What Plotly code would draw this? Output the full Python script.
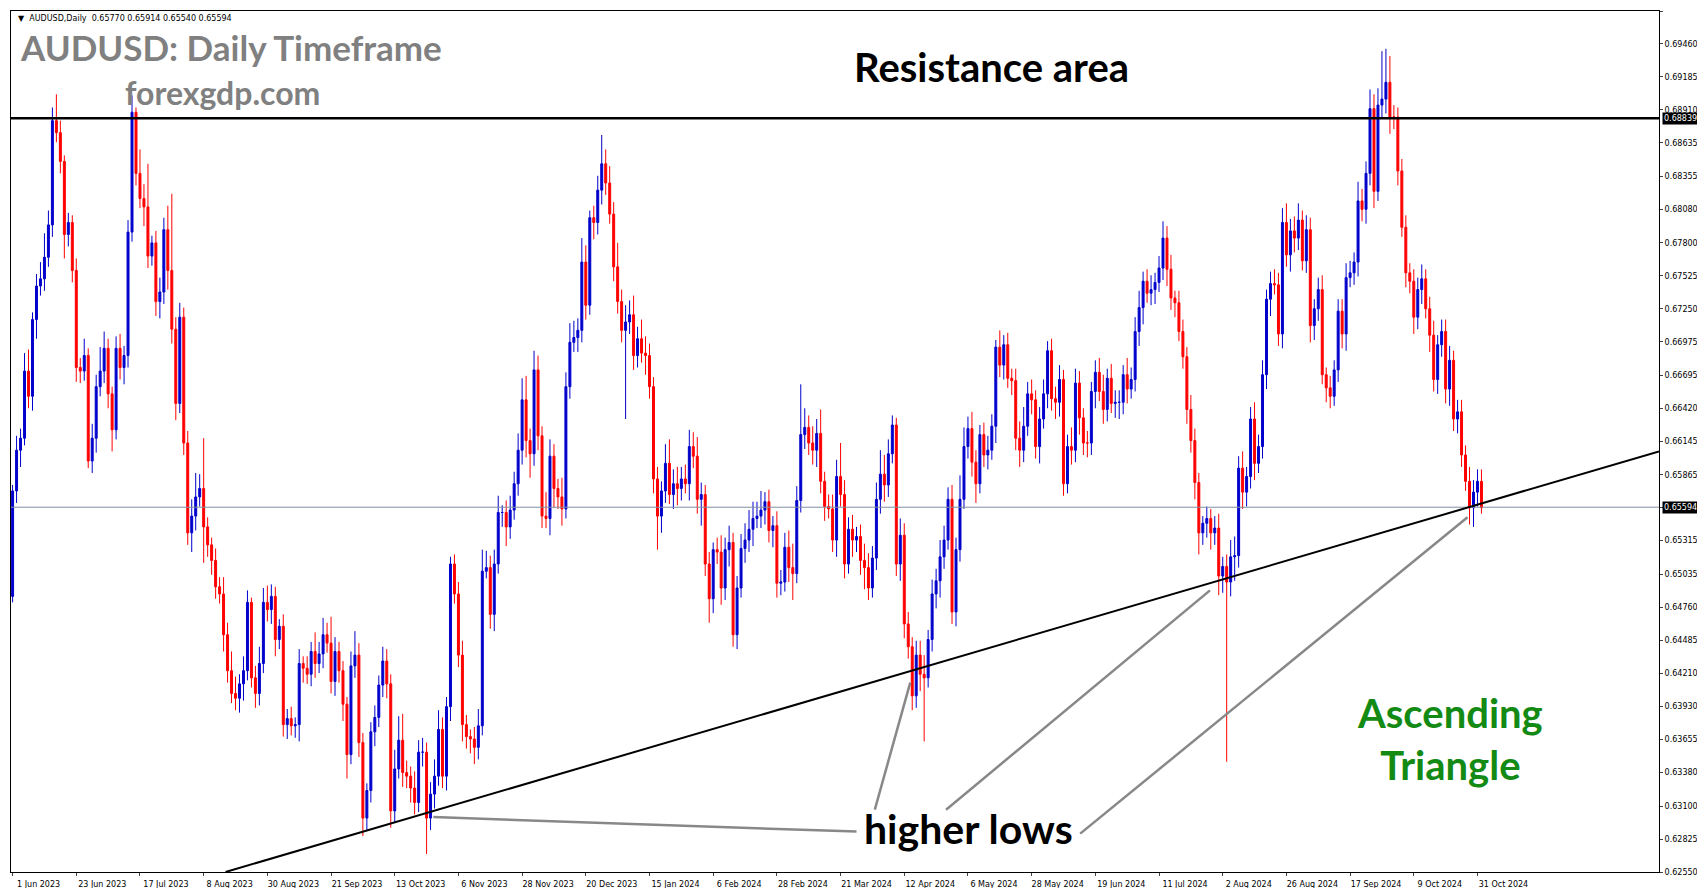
import plotly.graph_objects as go

# daily closes, in pips (0.0001)
first_open = 6485
closes = [
    6573, 6607, 6617, 6673, 6652, 6716, 6744, 6750, 6768, 6795,
    6882, 6872, 6848, 6787, 6797, 6757, 6676, 6673, 6686, 6598,
    6617, 6660, 6673, 6692, 6654, 6624, 6692, 6676, 6686, 6789,
    6889, 6838, 6817, 6810, 6769, 6780, 6731, 6739, 6791, 6757,
    6708, 6646, 6718, 6613, 6538, 6552, 6568, 6575, 6543, 6528,
    6515, 6493, 6487, 6453, 6423, 6404, 6400, 6412, 6423, 6480,
    6417, 6404, 6429, 6480, 6474, 6485, 6449, 6460, 6378, 6383,
    6377, 6378, 6429, 6425, 6420, 6439, 6429, 6437, 6453, 6446,
    6414, 6439, 6423, 6395, 6353, 6427, 6436, 6363, 6300, 6323,
    6372, 6384, 6411, 6431, 6412, 6306, 6341, 6365, 6338, 6335,
    6325, 6313, 6355, 6355, 6300, 6320, 6335, 6374, 6335, 6393,
    6512, 6487, 6436, 6378, 6368, 6366, 6359, 6377, 6506, 6509,
    6470, 6512, 6555, 6555, 6543, 6557, 6579, 6607, 6649, 6615,
    6604, 6674, 6619, 6552, 6550, 6602, 6575, 6568, 6558, 6660,
    6697, 6701, 6707, 6764, 6728, 6801, 6797, 6824, 6846, 6830,
    6804, 6760, 6731, 6707, 6714, 6720, 6686, 6700, 6688, 6686,
    6660, 6583, 6552, 6573, 6596, 6570, 6579, 6575, 6583, 6579,
    6610, 6602, 6566, 6570, 6512, 6483, 6524, 6522, 6492, 6524,
    6530, 6453, 6492, 6525, 6532, 6541, 6550, 6552, 6557, 6564,
    6540, 6544, 6496, 6497, 6526, 6509, 6504, 6565, 6620, 6626,
    6613, 6607, 6621, 6581, 6560, 6558, 6532, 6585, 6570, 6512,
    6541, 6532, 6535, 6515, 6509, 6492, 6517, 6566, 6587, 6578,
    6604, 6628, 6512, 6536, 6462, 6443, 6402, 6436, 6420, 6417,
    6449, 6487, 6498, 6518, 6532, 6566, 6472, 6524, 6566, 6610,
    6625, 6597, 6579, 6620, 6603, 6607, 6627, 6693, 6678, 6695,
    6667, 6665, 6617, 6607, 6627, 6654, 6649, 6610, 6633, 6654,
    6690, 6650, 6647, 6666, 6579, 6610, 6607, 6663, 6634, 6613,
    6613, 6656, 6672, 6656, 6641, 6667, 6646, 6647, 6647, 6670,
    6658, 6666, 6706, 6726, 6748, 6738, 6741, 6747, 6759, 6784,
    6758, 6734, 6730, 6706, 6685, 6641, 6615, 6580, 6538, 6546,
    6550, 6538, 6542, 6502, 6510, 6497, 6518, 6519, 6592, 6572,
    6585, 6633, 6596, 6610, 6670, 6733, 6746, 6745, 6704, 6797,
    6770, 6790, 6784, 6799, 6765, 6791, 6711, 6725, 6741, 6670,
    6659, 6652, 6674, 6723, 6704, 6751, 6755, 6764, 6815, 6808,
    6838, 6892, 6823, 6895, 6900, 6914, 6885, 6885, 6840, 6793,
    6755, 6748, 6718, 6741, 6750, 6725, 6703, 6666, 6695, 6706,
    6658, 6682, 6633, 6639, 6603, 6581, 6559, 6572, 6581, 6559,
]
# wick lengths above / below the body, in pips
upper_wick = [
    5, 12, 8, 15, 18, 6, 10, 14, 20, 12, 11, 22, 10, 5, 8, 6, 10, 8, 14, 6,
    12, 10, 20, 14, 8, 6, 10, 12, 8, 10, 14, 4, 20, 12, 36, 6, 10, 12, 10, 20,
    64, 10, 12, 8, 10, 14, 20, 12, 42, 8, 6, 10, 8, 14, 10, 16, 14, 8, 12, 10,
    4, 10, 14, 12, 14, 10, 8, 6, 10, 8, 10, 6, 12, 6, 10, 8, 16, 10, 14, 10,
    22, 12, 8, 8, 6, 12, 20, 10, 8, 6, 8, 10, 8, 12, 10, 8, 16, 20, 22, 10,
    8, 14, 10, 12, 8, 10, 14, 16, 10, 8, 6, 8, 10, 12, 8, 6, 10, 14, 18, 14,
    10, 12, 14, 6, 10, 12, 10, 14, 18, 20, 10, 16, 12, 8, 20, 14, 10, 8, 16, 12,
    16, 14, 10, 20, 14, 6, 10, 12, 24, 12, 14, 10, 20, 10, 14, 12, 16, 10, 16, 14,
    10, 8, 10, 8, 16, 20, 12, 14, 10, 12, 14, 12, 16, 10, 8, 10, 6, 10, 14, 10,
    14, 8, 10, 12, 14, 16, 14, 12, 16, 8, 10, 8, 12, 10, 12, 14, 20, 12, 42, 16,
    10, 14, 12, 20, 8, 10, 12, 14, 28, 12, 10, 12, 8, 10, 14, 12, 10, 14, 20, 16,
    12, 8, 6, 14, 10, 10, 8, 12, 12, 16, 8, 12, 10, 14, 12, 10, 12, 10, 20, 16,
    10, 14, 10, 8, 10, 12, 10, 6, 14, 8, 10, 8, 10, 14, 16, 10, 12, 8, 10, 12,
    8, 10, 10, 12, 8, 10, 16, 12, 10, 8, 10, 8, 10, 12, 14, 8, 12, 10, 10, 8,
    14, 10, 12, 14, 8, 10, 12, 8, 10, 14, 10, 12, 6, 10, 10, 8, 12, 10, 8, 6,
    10, 8, 10, 12, 8, 10, 14, 16, 10, 14, 8, 10, 14, 10, 12, 8, 10, 12, 10, 12,
    16, 10, 12, 14, 8, 12, 10, 8, 10, 12, 6, 10, 8, 10, 10, 12, 10, 8, 16, 10,
    10, 16, 12, 14, 40, 28, 22, 10, 8, 10, 10, 8, 10, 10, 12, 8, 10, 12, 8, 10,
    10, 12, 8, 10, 10, 8, 12, 10, 10, 10,
]
lower_wick = [
    5, 10, 14, 6, 10, 12, 16, 8, 10, 8, 10, 8, 10, 20, 10, 10, 12, 10, 8, 6,
    10, 12, 8, 10, 12, 18, 8, 10, 14, 10, 8, 10, 8, 16, 10, 8, 12, 14, 10, 16,
    12, 14, 8, 10, 10, 16, 12, 8, 30, 10, 12, 10, 8, 14, 10, 8, 10, 12, 14, 8,
    8, 12, 10, 8, 10, 12, 14, 8, 10, 12, 8, 10, 14, 12, 8, 10, 12, 8, 12, 8,
    10, 12, 10, 14, 20, 8, 10, 12, 15, 10, 10, 12, 8, 10, 12, 14, 10, 8, 12, 10,
    12, 10, 8, 12, 30, 10, 12, 8, 10, 12, 12, 8, 10, 14, 10, 12, 14, 10, 8, 6,
    12, 14, 8, 12, 16, 10, 8, 10, 12, 14, 20, 10, 12, 10, 8, 14, 16, 10, 14, 8,
    10, 8, 12, 10, 12, 8, 14, 10, 12, 10, 8, 12, 10, 10, 74, 10, 12, 10, 8, 16,
    10, 12, 28, 14, 10, 8, 12, 14, 10, 8, 14, 10, 12, 22, 10, 20, 12, 10, 14, 10,
    14, 10, 12, 8, 12, 10, 14, 8, 10, 12, 10, 14, 12, 10, 8, 12, 22, 8, 10, 12,
    10, 12, 14, 10, 12, 8, 10, 14, 10, 12, 8, 14, 10, 12, 18, 10, 8, 10, 12, 14,
    10, 8, 10, 14, 12, 10, 12, 10, 14, 53, 8, 10, 12, 14, 10, 8, 10, 12, 10, 8,
    10, 12, 16, 8, 10, 12, 8, 14, 10, 12, 8, 12, 10, 14, 10, 8, 12, 10, 14, 8,
    12, 10, 14, 12, 10, 8, 12, 10, 14, 10, 12, 10, 14, 8, 12, 10, 8, 12, 14, 10,
    12, 8, 10, 12, 14, 8, 10, 12, 8, 10, 14, 10, 12, 8, 10, 12, 10, 14, 18, 10,
    12, 14, 10, 16, 14, 150, 12, 20, 10, 14, 12, 10, 14, 8, 10, 12, 14, 8, 10, 12,
    10, 14, 12, 10, 8, 10, 14, 12, 10, 8, 12, 10, 8, 10, 12, 14, 8, 10, 12, 10,
    12, 10, 14, 8, 10, 12, 14, 10, 12, 8, 12, 10, 14, 10, 12, 8, 14, 10, 12, 10,
    12, 14, 10, 12, 10, 8, 14, 16, 12, 5,
]

date_labels = ["1 Jun 2023", "23 Jun 2023", "17 Jul 2023", "8 Aug 2023", "30 Aug 2023",
               "21 Sep 2023", "13 Oct 2023", "6 Nov 2023", "28 Nov 2023", "20 Dec 2023",
               "15 Jan 2024", "6 Feb 2024", "28 Feb 2024", "21 Mar 2024", "12 Apr 2024",
               "6 May 2024", "28 May 2024", "19 Jun 2024", "11 Jul 2024", "2 Aug 2024",
               "26 Aug 2024", "17 Sep 2024", "9 Oct 2024", "31 Oct 2024"]
price_ticks = [0.69735, 0.69460, 0.69185, 0.68910, 0.68635, 0.68355, 0.68080, 0.67800,
               0.67525, 0.67250, 0.66975, 0.66695, 0.66420, 0.66145, 0.65865, 0.65590,
               0.65315, 0.65035, 0.64760, 0.64485, 0.64210, 0.63930, 0.63655, 0.63380,
               0.63100, 0.62825, 0.62550]
resistance = 0.68839
last_price = 0.65594

# trend line + "higher lows" pointers (bar index, price)
trend_line = [(53.5, 0.62550), (413.6, 0.66060)]
pointers = [
    [(105.7, 0.63008), (212.0, 0.62887)],
    [(216.6, 0.63070), (225.5, 0.64130)],
    [(234.5, 0.63070), (300.8, 0.64900)],
    [(268.2, 0.62870), (365.5, 0.65510)],
]

opens = [first_open] + closes[:-1]
o = [v / 10000 for v in opens]
c = [v / 10000 for v in closes]
h = [(max(a, b) + u) / 10000 for a, b, u in zip(opens, closes, upper_wick)]
l = [(min(a, b) - d) / 10000 for a, b, d in zip(opens, closes, lower_wick)]
x = list(range(len(closes)))

fig = go.Figure()
fig.add_trace(go.Candlestick(
    x=x, open=o, high=h, low=l, close=c, whiskerwidth=0,
    increasing=dict(line=dict(color="#0000cc", width=1), fillcolor="#0000cc"),
    decreasing=dict(line=dict(color="#ff0000", width=1), fillcolor="#ff0000"),
    showlegend=False, hoverinfo="skip"))

fig.add_hline(y=resistance, line=dict(color="black", width=2.5))
fig.add_hline(y=last_price, line=dict(color="#8090a0", width=1))
(x0, y0), (x1, y1) = trend_line
fig.add_shape(type="line", x0=x0, y0=y0, x1=x1, y1=y1, line=dict(color="black", width=2))
for (px0, py0), (px1, py1) in pointers:
    fig.add_shape(type="line", x0=px0, y0=py0, x1=px1, y1=py1,
                  line=dict(color="#888888", width=2.5))

font = "Lato"
texts = [
    ("AUDUSD: Daily Timeframe", 0.004, 0.958, 35, "#808080", "left"),
    ("forexgdp.com", 0.068, 0.905, 32, "#808080", "left"),
    ("Resistance area", 0.595, 0.935, 40, "black", "center"),
    ("higher lows", 0.581, 0.05, 41, "black", "center"),
    ("Ascending<br>Triangle", 0.873, 0.155, 40, "#138a13", "center"),
]
for t, tx, ty, sz, col, al in texts:
    fig.add_annotation(text="<b>" + t + "</b>", x=tx, y=ty, xref="paper", yref="paper",
                       showarrow=False, xanchor=al, yanchor="middle", align="center",
                       font=dict(family=font, size=sz, color=col))
fig.add_annotation(text="▼  AUDUSD,Daily  0.65770 0.65914 0.65540 0.65594", x=0.003, y=0.999,
                   xref="paper", yref="paper", showarrow=False, xanchor="left", yanchor="top",
                   font=dict(family="DejaVu Sans", size=8, color="black"))
for val in (resistance, last_price):
    fig.add_annotation(text=f"{val:.5f}", x=1.0, y=val, xref="paper", yref="y",
                       showarrow=False, xanchor="left", bgcolor="black", xshift=3,
                       font=dict(family="DejaVu Sans", size=8, color="white"), borderpad=1)

fig.update_layout(
    width=1705, height=888, paper_bgcolor="white", plot_bgcolor="white",
    margin=dict(l=3, r=54, t=3, b=24),
    xaxis=dict(range=[-0.4, 413.6], tickvals=list(range(0, 16 * len(date_labels), 16)),
               ticktext=date_labels, tickfont=dict(family="DejaVu Sans", size=8, color="black"),
               ticklabelshift=26, ticklabelstandoff=1,
               showgrid=False, zeroline=False, rangeslider=dict(visible=False),
               showline=True, linecolor="black", mirror=True, ticks="outside", ticklen=3),
    yaxis=dict(range=[0.62550, 0.69735], side="right", tickvals=price_ticks,
               ticktext=[f"{p:.5f}" for p in price_ticks],
               tickfont=dict(family="DejaVu Sans", size=8, color="black"),
               showgrid=False, zeroline=False, showline=True, linecolor="black",
               mirror=True, ticks="outside", ticklen=3),
)
fig.write_html("out.html")
